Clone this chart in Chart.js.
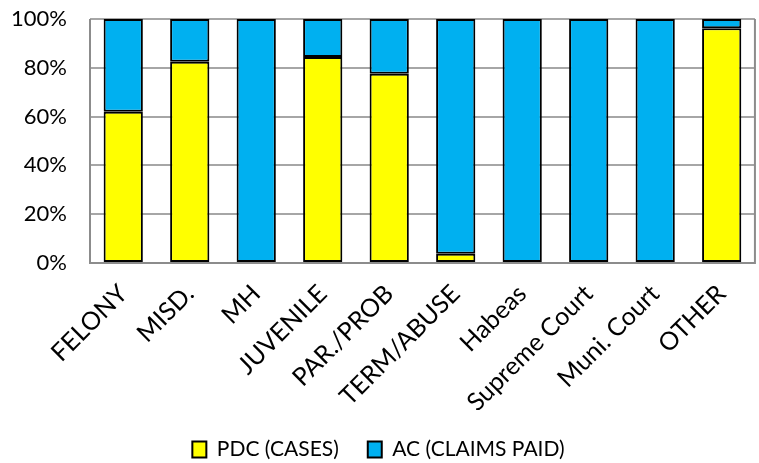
<!DOCTYPE html>
<html><head><meta charset="utf-8">
<script src="https://cdn.jsdelivr.net/npm/chart.js@4/dist/chart.umd.min.js"></script>
<style>html,body{margin:0;padding:0;background:#fff}#wrap{width:759px;height:463px}</style>
</head><body><div id="wrap"><canvas id="c" width="759" height="463"></canvas></div>
<script>
const categories = ["FELONY","MISD.","MH","JUVENILE","PAR./PROB","TERM/ABUSE","Habeas","Supreme Court","Muni. Court","OTHER"];
const pdcCases = [62, 82.5, 0, 84.4, 77.6, 3.8, 0, 0, 0, 96.2];
const acClaims = [38, 17.5, 100, 15.6, 22.4, 96.2, 100, 100, 100, 3.8];
const yTicks = ["0%","20%","40%","60%","80%","100%"];

const FONT = 'Lato, "Open Sans", sans-serif';

const frame = {
  id: 'frame',
  afterDatasetsDraw(chart) {
    const a = chart.chartArea, ctx = chart.ctx;
    ctx.save();
    ctx.strokeStyle = '#8c8c8c';
    ctx.lineWidth = 2;
    ctx.beginPath();
    ctx.moveTo(a.left, a.top); ctx.lineTo(a.left, a.bottom); ctx.lineTo(a.right, a.bottom); ctx.lineTo(a.right, a.top);
    ctx.stroke();
    ctx.restore();
  }
};

const bw = c => (c.raw === 0 ? 0 : 2);

new Chart(document.getElementById('c'), {
  type: 'bar',
  data: {
    labels: categories,
    datasets: [
      {label: 'PDC (CASES)', data: pdcCases, backgroundColor: '#ffff00', borderColor: '#000', borderWidth: bw, borderSkipped: false},
      {label: 'AC (CLAIMS PAID)', data: acClaims, backgroundColor: '#00b0f0', borderColor: '#000', borderWidth: bw, borderSkipped: false}
    ]
  },
  options: {
    responsive: false,
    animation: false,
    layout: {padding: {top: 19, right: 2, left: 0, bottom: -7}},
    datasets: {bar: {categoryPercentage: 1, barPercentage: 0.59}},
    plugins: {
      legend: {
        position: 'bottom',
        labels: {font: {family: FONT, size: 21}, color: '#000', boxWidth: 14, boxHeight: 16, padding: 29}
      },
      tooltip: {enabled: false}
    },
    scales: {
      x: {
        stacked: true,
        grid: {display: false, drawTicks: false},
        border: {display: false},
        ticks: {color: '#000', font: {family: FONT, size: 25}, minRotation: 45, maxRotation: 45, padding: 16},
        afterFit(s) { s.height = 147; }
      },
      y: {
        stacked: true,
        min: 0, max: 100,
        grid: {color: '#a6a6a6', lineWidth: 2, drawTicks: true, tickLength: 20, tickColor: 'rgba(0,0,0,0)'},
        border: {display: false},
        ticks: {stepSize: 20, color: '#000', padding: 3, font: {family: FONT, size: 22},
          callback: (v, i) => yTicks[i]},
        afterFit(s) { s.width = 90; }
      }
    }
  },
  plugins: [frame]
});
</script></body></html>
